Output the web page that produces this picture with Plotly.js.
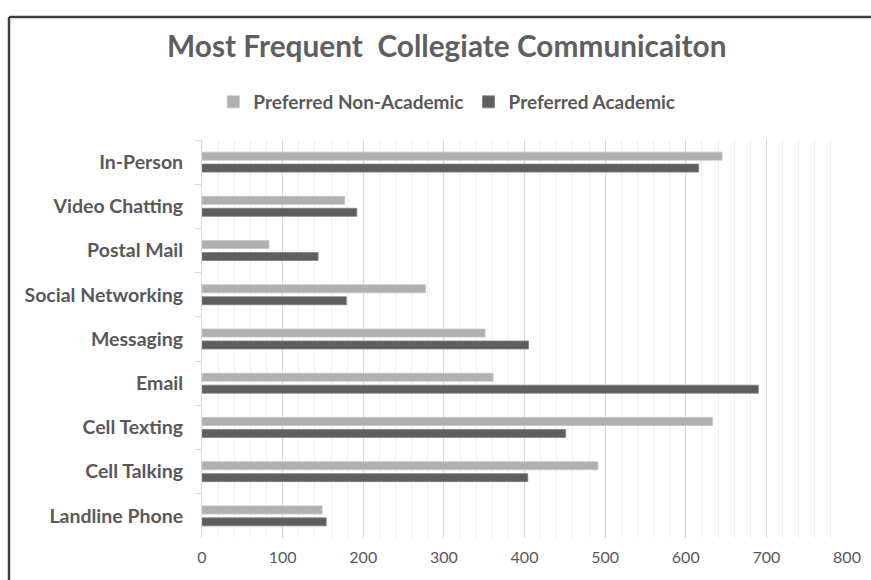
<!DOCTYPE html>
<html>
<head>
<meta charset="utf-8">
<script src="https://cdn.plot.ly/plotly-3.0.1.min.js"></script>
<style>
html,body{margin:0;padding:0;background:#fff;}
#chart{width:871px;height:580px;}
</style>
</head>
<body>
<div id="chart"></div>
<script>
const categories = ["In-Person","Video Chatting","Postal Mail","Social Networking","Messaging","Email","Cell Texting","Cell Talking","Landline Phone"];
const nonAcademic = [645, 177, 83, 277, 351, 361, 633, 491, 149];
const academic = [616, 192, 144, 179, 405, 690, 451, 404, 154];
const xTicks = [0, 100, 200, 300, 400, 500, 600, 700, 800];

const FONT = "Lato, 'Open Sans', sans-serif";
const TXT = "#595959";

const traces = [
  {type:"bar", orientation:"h", name:"Preferred Non-Academic", y:categories, x:nonAcademic,
   marker:{color:"#b0b0b0", line:{color:"#c4c4c4", width:0.8}}, hoverinfo:"x+y"},
  {type:"bar", orientation:"h", name:"Preferred Academic", y:categories, x:academic,
   marker:{color:"#5e5e5e", line:{color:"#808080", width:0.8}}, hoverinfo:"x+y"}
];

const layout = {
  width:871, height:580,
  margin:{l:202, r:24, t:140, b:42},
  paper_bgcolor:"#ffffff", plot_bgcolor:"#ffffff",
  font:{family:FONT, color:TXT},
  barmode:"group", bargap:0.46, bargroupgap:0.33,
  title:{text:"Most Frequent  Collegiate Communicaiton", x:0.513, xanchor:"center", xref:"container",
         y:1-47/580, yanchor:"middle", yref:"container",
         font:{family:FONT, size:29.8, color:"#5f5f5f", weight:"bold"}},
  showlegend:true,
  legend:{orientation:"h", xref:"container", yref:"container", x:0.513, xanchor:"center",
          y:1-102/580, yanchor:"middle", font:{family:FONT, size:19, color:TXT, weight:"bold"},
          itemwidth:30, traceorder:"normal"},
  xaxis:{range:[0,800], tickvals:xTicks, ticktext:xTicks.map(String), showgrid:true, gridcolor:"#d9d9d9", gridwidth:1,
         minor:{dtick:20, showgrid:true, gridcolor:"#efefef", gridwidth:1},
         zeroline:false, showline:false, ticks:"", ticklabelstandoff:8,
         tickfont:{family:FONT, size:16, color:TXT}, fixedrange:true},
  yaxis:{type:"category", autorange:"reversed", showgrid:false, zeroline:false,
         showline:true, linecolor:"#d9d9d9", linewidth:1,
         ticks:"outside", ticklen:6, tickcolor:"#d9d9d9", tickson:"boundaries",
         ticklabelstandoff:14,
         tickfont:{family:FONT, size:19.5, color:TXT, weight:"bold"}, fixedrange:true},
  shapes:[
    {type:"line", xref:"paper", yref:"paper", x0:(9-202)/645, x1:2, y0:1+(140-17)/398, y1:1+(140-17)/398,
     line:{color:"#404040", width:2.5}},
    {type:"line", xref:"paper", yref:"paper", x0:(9-202)/645, x1:(9-202)/645, y0:1+(140-17)/398, y1:-1,
     line:{color:"#404040", width:2.5}}
  ]
};

Plotly.newPlot("chart", traces, layout, {displayModeBar:false, staticPlot:true});
</script>
</body>
</html>
